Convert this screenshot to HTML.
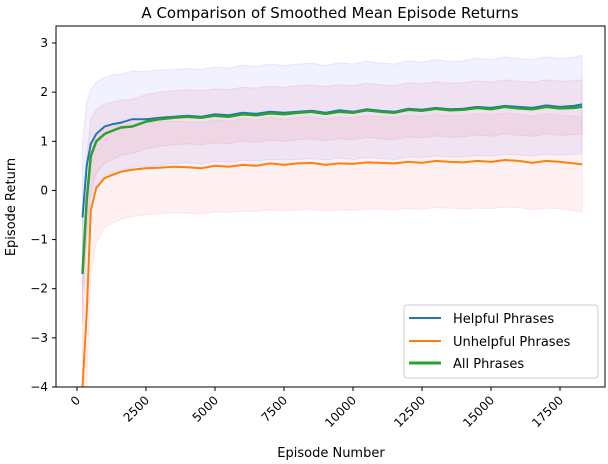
<!DOCTYPE html>
<html><head><meta charset="utf-8"><style>
html,body{margin:0;background:#fff;width:608px;height:464px;overflow:hidden;}
svg{display:block;font-family:"DejaVu Sans","Liberation Sans",sans-serif;}
</style></head><body>
<svg id="chart" width="608" height="464">
<text x="330" y="18" text-anchor="middle" font-size="15">A Comparison of Smoothed Mean Episode Returns</text>
<g id="bands"></g><g id="lines"></g><g id="axes"></g>
<text x="331" y="457" text-anchor="middle" font-size="13">Episode Number</text>
<text transform="translate(15,207) rotate(-90)" text-anchor="middle" font-size="13">Episode Return</text>
<g>
<rect x="404" y="305" width="194" height="73" rx="3" fill="#fff" fill-opacity="0.85" stroke="#ccc"/>
<line x1="409" y1="318" x2="441" y2="318" stroke="#1f77b4" stroke-width="2"/>
<text x="453" y="323" font-size="13">Helpful Phrases</text>
<line x1="409" y1="341" x2="441" y2="341" stroke="#ff7f0e" stroke-width="2"/>
<text x="453" y="346" font-size="13">Unhelpful Phrases</text>
<line x1="409" y1="363" x2="441" y2="363" stroke="#2ca02c" stroke-width="3"/>
<text x="453" y="368" font-size="13">All Phrases</text>
</g>
</svg>
<script>
const episodes=[200,350,500,700,1000,1300,1600,2000,2500,3000,3500,4000,4500,5000,5500,6000,6500,7000,7500,8000,8500,9000,9500,10000,10500,11000,11500,12000,12500,13000,13500,14000,14500,15000,15500,16000,16500,17000,17500,18000,18300];
const helpful=[-0.55,0.5,0.95,1.15,1.3,1.35,1.38,1.45,1.45,1.48,1.5,1.52,1.5,1.55,1.53,1.58,1.56,1.6,1.58,1.6,1.62,1.58,1.63,1.6,1.65,1.62,1.6,1.66,1.64,1.68,1.65,1.66,1.7,1.68,1.72,1.7,1.68,1.73,1.7,1.72,1.75];
const helpfulStd=[1.5,1.3,1.1,1.05,1.0,1.0,0.98,0.98,0.97,0.97,0.96,0.96,0.96,0.96,0.96,0.97,0.96,0.97,0.96,0.97,0.97,0.96,0.97,0.97,0.98,0.97,0.97,0.98,0.97,0.98,0.97,0.98,0.99,0.98,0.99,0.98,0.98,0.99,0.98,0.99,1.0];
const unhelpful=[-5.0,-2.5,-0.4,0.05,0.25,0.32,0.38,0.42,0.45,0.46,0.48,0.47,0.45,0.5,0.48,0.52,0.5,0.55,0.52,0.55,0.56,0.52,0.55,0.54,0.57,0.56,0.55,0.58,0.56,0.6,0.58,0.57,0.6,0.58,0.62,0.6,0.56,0.6,0.58,0.55,0.53];
const unhelpfulStd=[3.0,2.0,1.3,1.1,1.0,0.98,0.96,0.95,0.94,0.94,0.93,0.93,0.93,0.93,0.93,0.94,0.93,0.94,0.93,0.94,0.94,0.93,0.94,0.94,0.95,0.94,0.94,0.95,0.94,0.95,0.94,0.95,0.96,0.95,0.96,0.95,0.95,0.96,0.95,0.96,0.97];
const allPhrases=[-1.7,-0.2,0.7,1.0,1.15,1.22,1.28,1.3,1.4,1.45,1.48,1.5,1.48,1.52,1.5,1.55,1.53,1.57,1.55,1.58,1.6,1.56,1.6,1.58,1.63,1.6,1.58,1.64,1.62,1.66,1.63,1.64,1.68,1.65,1.7,1.67,1.65,1.7,1.67,1.68,1.7];
const allStd=[1.0,0.9,0.75,0.65,0.6,0.58,0.56,0.55,0.55,0.55,0.55,0.55,0.55,0.55,0.55,0.55,0.55,0.55,0.55,0.55,0.55,0.55,0.55,0.55,0.55,0.55,0.55,0.55,0.55,0.55,0.55,0.55,0.55,0.55,0.55,0.55,0.55,0.55,0.55,0.55,0.55];
const xTicks=[0,2500,5000,7500,10000,12500,15000,17500];
const yTicks=[-4,-3,-2,-1,0,1,2,3];
const L=56,T=26,R=605,B=387;
const X=v=>77+(v/2500)*69;
const Yraw=v=>43+(3-v)*49.14;
const Y=v=>Math.max(T,Math.min(B,Yraw(v)));
const NS="http://www.w3.org/2000/svg";
function mk(t,a,p){const e=document.createElementNS(NS,t);for(const k in a)e.setAttribute(k,a[k]);p.appendChild(e);return e;}
const bands=document.getElementById('bands'),lines=document.getElementById('lines'),axes=document.getElementById('axes');
function band(m,s,fill,stroke,name){
 let up=episodes.map((e,i)=>X(e).toFixed(1)+','+Y(m[i]+s[i]).toFixed(1));
 let dn=episodes.map((e,i)=>X(e).toFixed(1)+','+Y(m[i]-s[i]).toFixed(1)).reverse();
 const p=mk('polygon',{points:up.concat(dn).join(' '),fill:fill,stroke:stroke,'stroke-width':1},bands);
 
 
}
band(unhelpful,unhelpfulStd,'rgba(255,120,120,0.10)','rgba(255,150,150,0.2)','unhelpful-band');
band(helpful,helpfulStd,'rgba(120,120,255,0.10)','rgba(150,150,255,0.2)','helpful-band');
band(allPhrases,allStd,'rgba(230,120,150,0.13)','rgba(230,150,170,0.25)','all-band');
function line(m,c,w,name){
 const p=mk('polyline',{points:episodes.map((e,i)=>X(e).toFixed(1)+','+Y(m[i]).toFixed(1)).join(' '),fill:'none',stroke:c,'stroke-width':w},lines);
 
 
}
line(unhelpful,'#ff7f0e',2,'unhelpful-line');
line(helpful,'#1f77b4',2,'helpful-line');
line(allPhrases,'#2ca02c',2.5,'all-line');
const fr=mk('rect',{x:L,y:T,width:R-L,height:B-T,fill:'none',stroke:'#000','stroke-width':1},axes);


xTicks.forEach(v=>{const x=X(v);mk('line',{x1:x,y1:B,x2:x,y2:B+4,stroke:'#000'},axes);
 const t=mk('text',{transform:`translate(${x+4},${B+14}) rotate(-45)`,'text-anchor':'end','font-size':12},axes);t.textContent=v;
 
 });
yTicks.forEach(v=>{const y=Yraw(v);mk('line',{x1:L-4,y1:y,x2:L,y2:y,stroke:'#000'},axes);
 const t=mk('text',{x:L-8,y:y+4,'text-anchor':'end','font-size':12},axes);t.textContent=v<0?'\u2212'+(-v):v;
 
 });
</script>
</body></html>
